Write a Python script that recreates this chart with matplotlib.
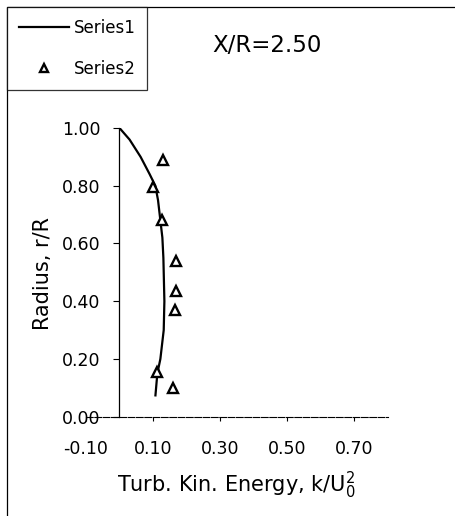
import numpy as np
import matplotlib
matplotlib.use("Agg")
import matplotlib.pyplot as plt
from matplotlib.lines import Line2D
from matplotlib.patches import Rectangle

plt.rcParams['font.family'] = ['DejaVu Sans']
plt.rcParams['mathtext.fontset'] = 'dejavusans'

# Series1: fitted profile (k/U0^2 vs r/R)
s1_k = [0.000, 0.030, 0.063, 0.090, 0.107, 0.115, 0.120, 0.128, 0.131, 0.134, 0.132, 0.122, 0.113, 0.107]
s1_r = [1.000, 0.960, 0.900, 0.840, 0.800, 0.750, 0.700, 0.620, 0.550, 0.400, 0.300, 0.200, 0.150, 0.070]

# Series2: measured points
s2_k = [0.131, 0.100, 0.128, 0.170, 0.170, 0.167, 0.113, 0.161]
s2_r = [0.890, 0.795, 0.680, 0.540, 0.435, 0.370, 0.155, 0.100]

x_ticks = [-0.10, 0.10, 0.30, 0.50, 0.70]
y_ticks = [0.00, 0.20, 0.40, 0.60, 0.80, 1.00]

fig = plt.figure(figsize=(4.56, 5.16), dpi=100)
ax = fig.add_axes([86 / 456, 1 - 416.7 / 516, (387.5 - 86) / 456, (416.7 - 128) / 516])

ax.plot(s1_k, s1_r, color='black', lw=1.6, solid_capstyle='butt')
ax.plot(s2_k, s2_r, linestyle='none', marker='^', ms=7, mfc='white',
        mec='black', mew=1.7)

ax.set_xlim(-0.1, 0.8)
ax.set_ylim(0, 1)
ax.spines['left'].set_position(('data', 0))
ax.spines['bottom'].set_position(('data', 0))
ax.spines['top'].set_visible(False)
ax.spines['right'].set_visible(False)
ax.spines['left'].set_linewidth(0.9)
ax.spines['bottom'].set_linewidth(0.8)
ax.spines['bottom'].set_linestyle((0, (6, 1.5)))

ax.set_xticks(x_ticks)
ax.set_xticklabels([f'{v:.2f}' for v in x_ticks])
ax.set_yticks(y_ticks)
ax.set_yticklabels([f'{v:.2f}' for v in y_ticks])
ax.tick_params(axis='y', direction='out', length=4.5, width=0.8, labelsize=12.5, pad=9)
ax.tick_params(axis='x', direction='out', length=3, width=0.8, labelsize=12.5, pad=14)
ax.set_facecolor('none')

fig.text(43 / 456, 1 - 273 / 516, 'Radius, r/R', rotation=90, fontsize=15,
         ha='center', va='center')
fig.text(236 / 456, 1 - 485 / 516, r'Turb. Kin. Energy, k/U$^{2}_{0}$', fontsize=15,
         ha='center', va='center')
fig.text(267 / 456, 1 - 45 / 516, 'X/R=2.50', fontsize=16.5, ha='center', va='center')

# outer frame of the chart area
fig.patches.append(Rectangle((7 / 456, -0.1), 1.2, 1 - 7 / 516 + 0.1,
                             transform=fig.transFigure, fill=False,
                             edgecolor='black', lw=0.9))

handles = [Line2D([], [], color='black', lw=1.6),
           Line2D([], [], linestyle='none', marker='^', ms=6, mfc='white',
                  mec='black', mew=1.7)]
leg = fig.legend(handles, ['Series1', 'Series2'], loc='upper left',
                 bbox_to_anchor=(7 / 456, 1 - 7 / 516), fontsize=12,
                 frameon=True, fancybox=False, edgecolor='black',
                 borderpad=0.7, borderaxespad=0, labelspacing=1.4,
                 handlelength=3.0, handletextpad=0.3)
leg.get_frame().set_linewidth(0.9)

fig.savefig('out.png', dpi=100, facecolor='white')
